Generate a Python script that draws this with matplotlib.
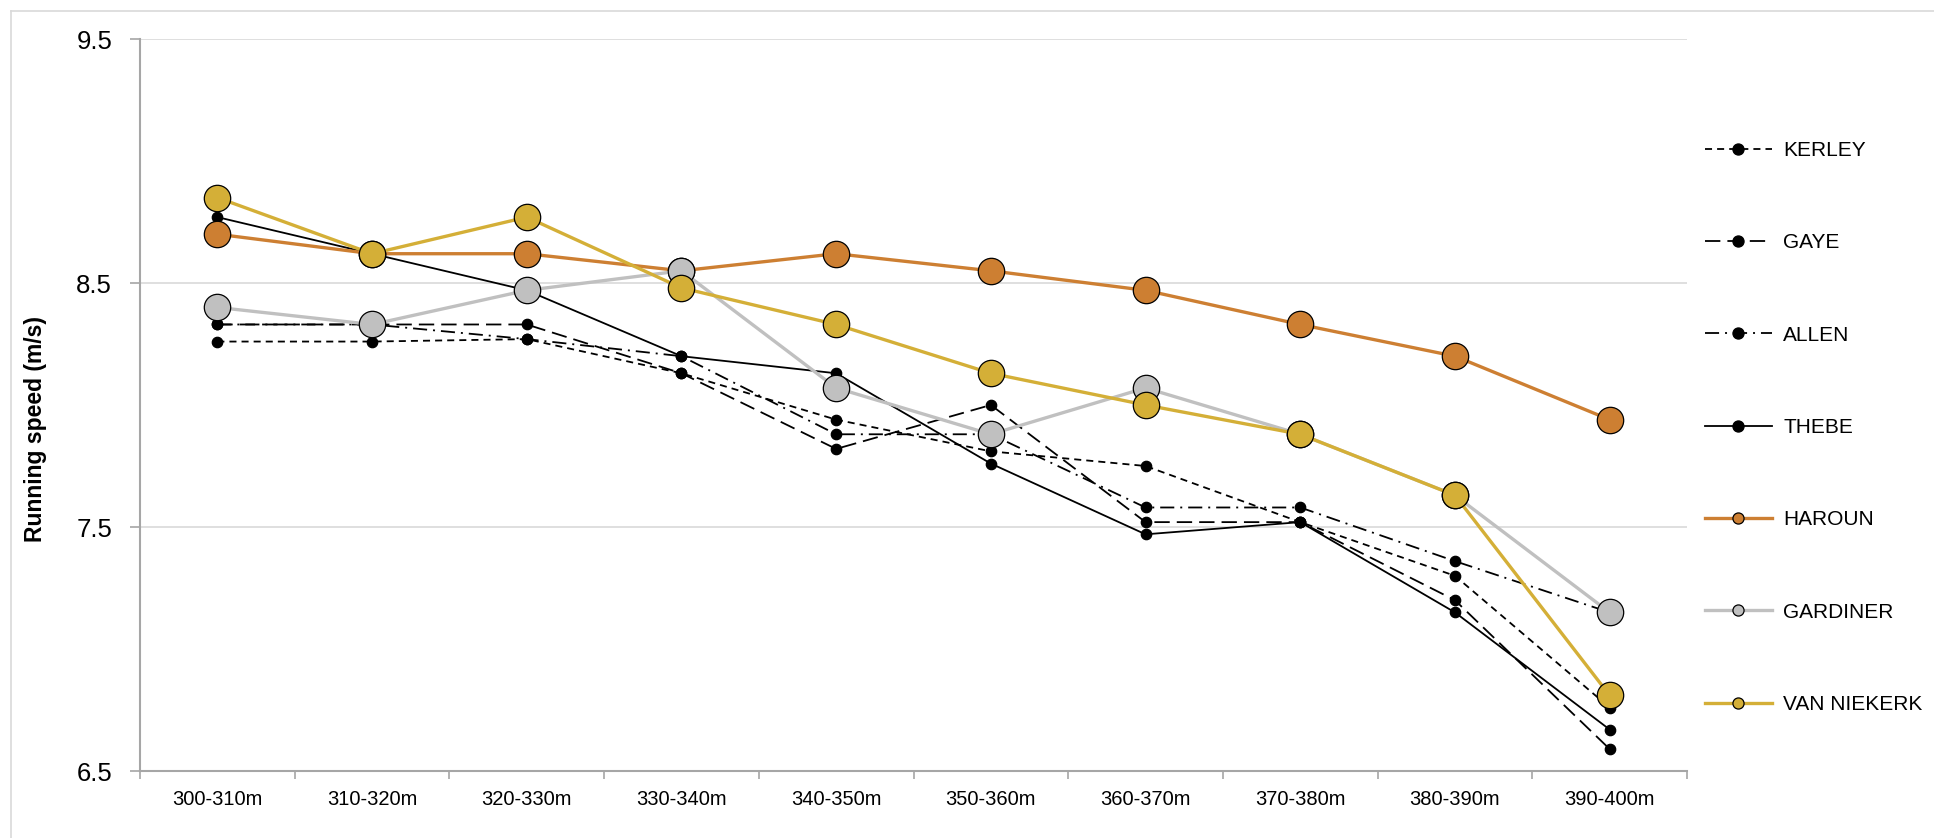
import numpy as np
import matplotlib.pyplot as plt
from matplotlib.lines import Line2D

plt.rcParams['font.family'] = ['Liberation Sans', 'DejaVu Sans']

segments = ['300-310m', '310-320m', '320-330m', '330-340m', '340-350m',
            '350-360m', '360-370m', '370-380m', '380-390m', '390-400m']
kerley = [8.26, 8.26, 8.27, 8.13, 7.94, 7.81, 7.75, 7.52, 7.30, 6.76]
gaye = [8.33, 8.33, 8.33, 8.13, 7.82, 8.00, 7.52, 7.52, 7.20, 6.59]
allen = [8.33, 8.33, 8.27, 8.20, 7.88, 7.88, 7.58, 7.58, 7.36, 7.15]
thebe = [8.77, 8.62, 8.47, 8.20, 8.13, 7.76, 7.47, 7.52, 7.15, 6.67]
haroun = [8.70, 8.62, 8.62, 8.55, 8.62, 8.55, 8.47, 8.33, 8.20, 7.94]
gardiner = [8.40, 8.33, 8.47, 8.55, 8.07, 7.88, 8.07, 7.88, 7.63, 7.15]
van_niekerk = [8.85, 8.62, 8.77, 8.48, 8.33, 8.13, 8.00, 7.88, 7.63, 6.81]

names = ['KERLEY', 'GAYE', 'ALLEN', 'THEBE', 'HAROUN', 'GARDINER', 'VAN NIEKERK']
series = [kerley, gaye, allen, thebe, haroun, gardiner, van_niekerk]

# style per runner: colour, linestyle, linewidth, marker size
black_lw = 1.3
styles = [
    ('black', (0, (3.9, 2.8)), black_lw, 7.5),
    ('black', (0, (8.5, 3.9)), black_lw, 7.5),
    ('black', (0, (7.8, 3.3, 1.1, 3.3)), black_lw, 7.5),
    ('black', '-', black_lw, 7.5),
    ('#CD7F32', '-', 2.4, 19),
    ('#C0C0C0', '-', 2.4, 19),
    ('#D4AF37', '-', 2.4, 19),
]

W, H = 1934, 838
fig = plt.figure(figsize=(W / 100, H / 100), dpi=100)
ax = fig.add_axes([140 / W, (H - 771) / H, (1687 - 140) / W, (771 - 39) / H])

x = np.arange(len(segments))
handles = []
for name, ys, (c, ls, lw, ms) in zip(names, series, styles):
    ax.plot(x, ys, color=c, linestyle=ls, linewidth=lw, marker='o',
            markersize=ms, markerfacecolor=c, markeredgecolor='black',
            markeredgewidth=0.9, zorder=3)
    handles.append(Line2D([], [], color=c, linestyle=ls, linewidth=lw, marker='o',
                          markersize=8, markerfacecolor=c, markeredgecolor='black',
                          markeredgewidth=0.9, label=name))

ax.set_xlim(-0.5, len(segments) - 0.5)
ax.set_ylim(6.5, 9.5)
ax.set_yticks([6.5, 7.5, 8.5, 9.5])
ax.set_yticklabels(['6.5', '7.5', '8.5', '9.5'], fontsize=18.5)
ax.yaxis.grid(True, color='#D9D9D9', linewidth=1.2, zorder=0)
ax.set_axisbelow(True)

ax.set_xticks(np.arange(-0.5, len(segments)), labels=[])
ax.set_xticks(x, labels=segments, minor=True)
ax.tick_params(axis='x', which='major', length=6, color='#A6A6A6', width=1.2)
ax.tick_params(axis='x', which='minor', length=0, pad=13.5, labelsize=14.5)
ax.tick_params(axis='y', length=7, color='#A6A6A6', width=1.2, pad=13)

for s in ['top', 'right']:
    ax.spines[s].set_visible(False)
for s in ['left', 'bottom']:
    ax.spines[s].set_color('#A6A6A6')
    ax.spines[s].set_linewidth(1.5)

ax.set_ylabel('Running speed (m/s)', fontsize=16.5, fontweight='bold')
ax.yaxis.set_label_coords(-0.060, 0.467)

fig.legend(handles=handles, loc='upper left', bbox_to_anchor=(1705 / W, 1 - 141 / H),
           frameon=False, fontsize=15, handlelength=3.2, handletextpad=0.55,
           labelspacing=3.52, borderpad=0, borderaxespad=0)

# chart border (top and left edges visible)
fig.add_artist(Line2D([11 / W, 1], [1 - 11 / H, 1 - 11 / H], color='#D9D9D9', linewidth=1.2))
fig.add_artist(Line2D([11 / W, 11 / W], [0, 1 - 11 / H], color='#D9D9D9', linewidth=1.2))

fig.savefig('out.png', dpi=100)
